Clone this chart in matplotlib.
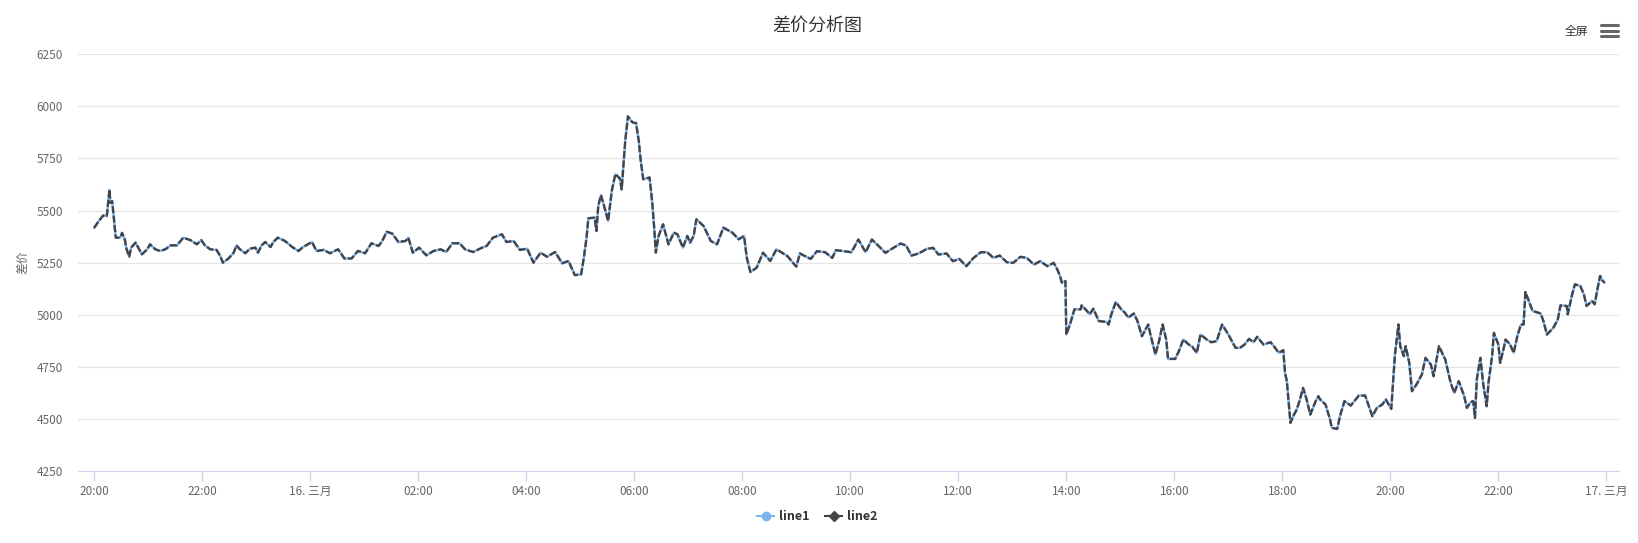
import datetime as dt
import matplotlib
matplotlib.use("Agg")
import matplotlib.pyplot as plt
import matplotlib.dates as mdates
from matplotlib.lines import Line2D

plt.rcParams['font.family'] = ['Noto Sans CJK SC', 'DejaVu Sans']

# minutes after 15 Mar 20:00, spread value
minutes = [0, 5, 10, 14, 17, 18, 20, 22, 24, 29, 31, 34, 36, 39, 41, 46, 49, 53, 59,
           62, 68, 73, 79, 85, 92, 99, 107, 114, 119, 123, 129, 136, 140, 143, 149,
           155, 158, 162, 168, 173, 179, 182, 186, 190, 196, 199, 204, 212, 220, 227,
           232, 242, 247, 255, 262, 271, 278, 286, 293, 301, 308, 316, 320, 325, 331,
           338, 346, 349, 354, 361, 369, 377, 385, 391, 398, 406, 412, 421, 431, 436,
           443, 453, 458, 466, 473, 481, 488, 496, 503, 512, 520, 527, 534, 541, 544,
           547, 549, 556, 558, 560, 563, 566, 571, 575, 579, 584, 586, 590, 593, 598,
           602, 605, 607, 610, 617, 620, 622, 624, 627, 632, 638, 644, 648, 654, 659,
           662, 666, 669, 677, 685, 692, 699, 709, 716, 722, 725, 729, 736, 743, 751,
           758, 770, 780, 784, 796, 803, 812, 820, 824, 833, 841, 844, 849, 857, 864,
           871, 879, 886, 896, 902, 908, 916, 925, 932, 938, 947, 954, 961, 969, 977,
           985, 992, 999, 1006, 1014, 1021, 1029, 1036, 1044, 1051, 1059, 1066, 1070,
           1073, 1075, 1079, 1080, 1084, 1089, 1096, 1097, 1103, 1106, 1110, 1116,
           1125, 1127, 1130, 1135, 1141, 1145, 1149, 1155, 1159, 1164, 1171, 1173,
           1179, 1183, 1187, 1191, 1193, 1201, 1205, 1210, 1216, 1220, 1225, 1229,
           1236, 1241, 1247, 1253, 1256, 1260, 1268, 1273, 1278, 1283, 1288, 1292,
           1299, 1307, 1312, 1316, 1321, 1323, 1325, 1329, 1333, 1336, 1339, 1343,
           1347, 1351, 1357, 1360, 1362, 1368, 1373, 1375, 1381, 1384, 1389, 1396,
           1405, 1412, 1420, 1425, 1431, 1435, 1441, 1443, 1445, 1449, 1451, 1455,
           1457, 1461, 1464, 1469, 1475, 1479, 1485, 1488, 1494, 1501, 1507, 1511,
           1516, 1522, 1525, 1529, 1532, 1534, 1536, 1540, 1543, 1547, 1549, 1553,
           1555, 1560, 1562, 1566, 1568, 1573, 1577, 1581, 1585, 1588, 1590, 1598,
           1607, 1610, 1614, 1621, 1626, 1629, 1636, 1637, 1642, 1645, 1651, 1655,
           1658, 1664, 1667, 1670, 1673, 1676, 1678]
spread = [5417, 5449, 5476, 5473, 5600, 5537, 5545, 5457, 5370, 5370, 5393, 5361, 5314,
          5279, 5322, 5346, 5322, 5290, 5314, 5338, 5314, 5306, 5314, 5333, 5333, 5370,
          5358, 5338, 5358, 5333, 5314, 5311, 5282, 5250, 5269, 5298, 5333, 5314, 5295,
          5317, 5322, 5298, 5333, 5349, 5325, 5349, 5370, 5354, 5325, 5306, 5325, 5349,
          5306, 5311, 5295, 5314, 5270, 5270, 5306, 5295, 5343, 5330, 5354, 5398, 5390,
          5349, 5354, 5370, 5298, 5322, 5285, 5306, 5314, 5301, 5343, 5343, 5314, 5301,
          5322, 5330, 5370, 5386, 5349, 5354, 5311, 5317, 5250, 5298, 5278, 5301, 5247,
          5258, 5190, 5194, 5274, 5370, 5463, 5466, 5402, 5522, 5574, 5530, 5450, 5594,
          5675, 5654, 5602, 5835, 5952, 5923, 5920, 5835, 5747, 5650, 5659, 5538, 5426,
          5298, 5378, 5434, 5338, 5394, 5386, 5322, 5378, 5346, 5378, 5458, 5426, 5354,
          5338, 5418, 5394, 5362, 5378, 5274, 5205, 5226, 5298, 5258, 5314, 5282, 5231,
          5294, 5268, 5305, 5300, 5273, 5310, 5305, 5300, 5321, 5361, 5300, 5361, 5332,
          5297, 5316, 5342, 5332, 5284, 5294, 5316, 5321, 5289, 5294, 5257, 5268, 5233,
          5273, 5300, 5300, 5273, 5284, 5252, 5249, 5278, 5273, 5241, 5257, 5233, 5249,
          5217, 5186, 5154, 5162, 4905, 4953, 5026, 5026, 5045, 5018, 5002, 5029, 4970,
          4965, 4953, 5002, 5061, 5026, 5010, 4986, 5006, 4970, 4897, 4953, 4913, 4809,
          4873, 4953, 4881, 4788, 4788, 4825, 4881, 4857, 4846, 4817, 4905, 4881, 4868,
          4873, 4953, 4933, 4905, 4841, 4841, 4857, 4884, 4868, 4894, 4857, 4868, 4841,
          4817, 4830, 4721, 4681, 4481, 4521, 4545, 4585, 4649, 4593, 4521, 4585, 4609,
          4593, 4569, 4497, 4457, 4452, 4513, 4585, 4564, 4612, 4612, 4513, 4553, 4569,
          4593, 4548, 4673, 4804, 4953, 4849, 4801, 4849, 4769, 4633, 4665, 4713, 4793,
          4761, 4705, 4849, 4785, 4673, 4625, 4681, 4609, 4553, 4580, 4585, 4505, 4689,
          4793, 4673, 4561, 4673, 4801, 4913, 4857, 4769, 4841, 4881, 4857, 4817, 4897,
          4953, 4953, 5109, 5018, 5006, 4970, 4905, 4937, 4977, 5045, 5042, 5002, 5098,
          5146, 5138, 5098, 5042, 5066, 5050, 5122, 5186, 5162, 5154]

y_ticks = [4250, 4500, 4750, 5000, 5250, 5500, 5750, 6000, 6250]
start = dt.datetime(2021, 3, 15, 20, 0)
times = [start + dt.timedelta(minutes=m) for m in minutes]

fig = plt.figure(figsize=(16.38, 5.43), dpi=100)
ax = fig.add_axes([0.0476, 0.1326, 0.9408, 0.7674])

ax.plot(times, spread, color='#7cb5ec', lw=1.7, zorder=3)
ax.plot(times, spread, color='#434348', lw=1.7, dashes=(3, 1), zorder=4)

ax.set_ylim(4250, 6250)
ax.set_yticks(y_ticks)
ax.set_xlim(start - dt.timedelta(minutes=18), start + dt.timedelta(hours=28, minutes=14))

ax.xaxis.set_major_locator(mdates.HourLocator(byhour=range(0, 24, 2)))


def fmt_time(x, pos=None):
    d = mdates.num2date(x)
    if d.hour == 0 and d.minute == 0:
        return f"{d.day}. 三月"
    return d.strftime("%H:%M")


ax.xaxis.set_major_formatter(plt.FuncFormatter(fmt_time))

ax.grid(axis='y', color='#e6e6e6', lw=1)
ax.set_axisbelow(True)
for s in ['top', 'right', 'left']:
    ax.spines[s].set_visible(False)
ax.spines['bottom'].set_color('#ccd6eb')
ax.tick_params(axis='x', colors='#ccd6eb', length=7, width=1, pad=3,
               labelcolor='#666666', labelsize=8.5)
ax.tick_params(axis='y', length=0, labelcolor='#666666', labelsize=8.5, pad=11)

ax.set_ylabel("差价", color='#666666', fontsize=8.5, labelpad=5)

fig.text(0.499, 1 - 26 / 543, "差价分析图", ha='center', va='center',
         fontsize=13, color='#333333')

# export menu mimic
fig.text(1576 / 1638, 1 - 31 / 543, "全屏", ha='center', va='center',
         fontsize=8.5, color='#333333')
for yy in [25, 31, 36]:
    fig.add_artist(Line2D([1601 / 1638, 1618 / 1638], [1 - yy / 543, 1 - yy / 543],
                          color='#666666', lw=2.2, solid_capstyle='round'))

h1 = Line2D([], [], color='#7cb5ec', lw=1.5, marker='o', markersize=6)
h2 = Line2D([], [], color='#434348', lw=1.5, marker='D', markersize=5)
fig.legend([h1, h2], ['line1', 'line2'], loc='center', bbox_to_anchor=(0.499, 0.048),
           ncol=2, frameon=False, handlelength=1.4, columnspacing=1.2, handletextpad=0.4,
           prop={'size': 9, 'weight': 'bold'}, labelcolor='#333333')

fig.savefig("out.png", dpi=100)
